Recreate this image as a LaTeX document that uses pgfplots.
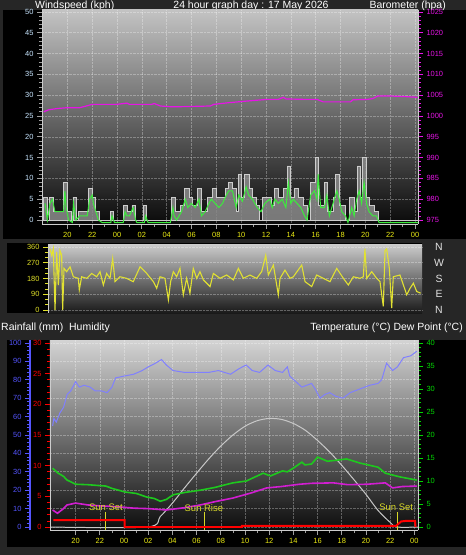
\documentclass[border=0pt]{standalone}
\usepackage{fontspec}
\setmainfont{Liberation Sans}
\usepackage{pgfplots}
\pgfplotsset{compat=1.18}
\definecolor{bgdark}{RGB}{38,38,38}
\definecolor{frame}{RGB}{205,205,205}
\definecolor{tickgray}{RGB}{160,160,160}
\definecolor{tickyellow}{RGB}{235,235,20}
\definecolor{windlbl}{RGB}{200,230,255}
\definecolor{baro}{RGB}{230,20,230}
\definecolor{dirline}{RGB}{225,225,50}
\definecolor{dirlbl}{RGB}{225,225,40}
\definecolor{humline}{RGB}{128,128,255}
\definecolor{humlbl}{RGB}{85,85,255}
\definecolor{rainred}{RGB}{255,0,0}
\definecolor{templine}{RGB}{30,200,30}
\definecolor{templbl}{RGB}{0,215,0}
\definecolor{dewline}{RGB}{210,30,210}
\definecolor{sunline}{RGB}{200,200,200}
\definecolor{sunyel}{RGB}{215,215,40}
\definecolor{gustfill}{RGB}{140,140,140}
\definecolor{gustedge}{RGB}{205,205,205}
\definecolor{avgline}{RGB}{60,235,60}
\newcommand{\tl}{\fontsize{7.5}{8}\selectfont}
\newcommand{\ttl}{\fontsize{10.5}{12}\selectfont}
\pgfplotsset{
  common/.style={scale only axis, anchor=south west,
    /pgf/number format/assume math mode=true,
    /pgf/number format/set thousands separator={},
    tick align=outside, major tick length=5bp, minor tick length=3bp,
    axis line style={draw=frame, line width=1pt}},
  gridst/.style={major grid style={draw=white, opacity=0.3, densely dotted, line width=0.6pt}},
}
\begin{document}
\begin{tikzpicture}
\fill[bgdark] (0,0) rectangle (466bp,-555bp);
\useasboundingbox (0,0) rectangle (466bp,-555bp);
\fill[black] (3bp,-10bp) rectangle (466bp,-239bp);
\fill[black] (7bp,-243bp) rectangle (422bp,-313bp);
\fill[black] (7bp,-340bp) rectangle (466bp,-547bp);

\node[anchor=base west, text=white, font=\ttl, inner sep=0] at (35bp,-8bp) {Windspeed (kph)};
\node[anchor=base, text=white, font=\ttl, inner sep=0] at (251bp,-8bp) {24 hour graph day : 17 May 2026};
\node[anchor=base east, text=white, font=\ttl, inner sep=0] at (446bp,-8bp) {Barometer (hpa)};
\node[anchor=base west, text=white, font=\ttl, inner sep=0] at (1bp,-330.5bp) {Rainfall (mm)\ \ Humidity};
\node[anchor=base east, text=white, font=\ttl, inner sep=0] at (463bp,-330.5bp) {Temperature (°C) Dew Point (°C)};

% ---------------- Panel 1: wind ----------------
\begin{axis}[common, gridst,
  at={(42bp,-224bp)}, width=376bp, height=214bp,
  xmin=-6.04, xmax=24.24, ymin=-0.96, ymax=50.48,
  axis background/.style={shade, top color={rgb,255:red,195;green,195;blue,195}, bottom color={rgb,255:red,10;green,10;blue,10}},
  axis x line*=bottom, axis y line*=left,
  xtick={-4,-2,...,24}, xticklabels={20,22,00,02,04,06,08,10,12,14,16,18,20,22,00},
  minor x tick num=1,
  ytick={0,5,...,50}, minor y tick num=4,
  tick style={draw=tickgray, line width=0.7pt},
  xticklabel style={text=tickyellow, font=\tl},
  yticklabel style={text=windlbl, font=\tl},
  grid=major]
\addplot[const plot, fill=gustfill, fill opacity=0.85, draw=gustedge, line width=0.8pt] coordinates {
(-5.9,5.5) (-5.6,0) (-5.45,5.5) (-5.1,2) (-4.3,9) (-4.0,2) (-3.7,0) (-3.55,5.5) (-3.3,0) (-3.1,2)
(-2.3,7.5) (-2.0,5.5) (-1.75,2) (-1.45,0) (-0.5,2) (-0.25,0) (0.55,3.5) (0.85,2) (1.2,3.5) (1.5,0)
(2.15,3.5) (2.4,0) (4.35,5.5) (4.7,2) (5.1,3.5) (5.45,7.5) (5.8,5.5) (6.1,3.5) (6.5,7.5) (6.8,2)
(7.25,5.5) (7.7,7.5) (8.0,5.5) (8.7,7.5) (9.0,9) (9.3,7.5) (9.6,2) (9.75,11) (10.0,5.5) (10.25,11)
(10.65,7.5) (10.9,5.5) (11.2,3.5) (11.5,0) (11.7,5.5) (12.4,3.5) (12.65,7.5) (13.0,5.5) (13.4,7.5)
(13.7,13) (13.95,5.5) (14.25,7.5) (14.6,5.5) (15.0,3.5) (15.35,0) (15.6,9) (15.95,15) (16.2,3.5)
(16.7,9) (16.95,2) (17.4,5.5) (17.6,11) (17.95,3.5) (18.4,0) (18.75,5.5) (19.1,2) (19.35,13)
(19.6,5.5) (19.8,15) (20.05,5.5) (20.35,3.5) (20.7,2) (21.05,0) (24.24,0)} \closedcycle;
\addplot[avgline, line width=1pt] coordinates {
(-5.8,4) (-5.6,0) (-5.4,4) (-5.2,5) (-5.0,2) (-4.3,2) (-4.2,7) (-4.1,3) (-3.9,0) (-3.6,-0.6) (-3.5,4)
(-3.3,0) (-3.0,1) (-2.4,1) (-2.2,5) (-2.0,6) (-1.9,4) (-1.7,2) (-1.5,0) (-1.2,-0.6) (-0.5,-0.6)
(-0.4,1) (-0.2,-0.6) (0.5,-0.6) (0.65,2) (0.8,1) (1.0,1) (1.3,3) (1.5,0) (1.6,-0.6) (2.2,-0.6)
(2.3,1) (2.5,-0.6) (4.3,-0.6) (4.5,3) (4.6,1) (4.8,0) (5.2,2) (5.5,5) (5.7,3) (6.0,4) (6.3,3)
(6.6,5) (6.8,1) (7.1,2) (7.4,4) (7.6,5) (7.9,4) (8.2,3) (8.5,4) (8.8,6) (9.0,7) (9.3,7) (9.6,3)
(9.8,6) (10.1,4.5) (10.4,8) (10.6,6) (10.9,5) (11.1,4) (11.3,3) (11.6,2) (11.9,4) (12.3,5) (12.5,3)
(12.7,5) (13.0,4) (13.3,5) (13.6,3) (13.8,9) (14.0,4) (14.2,5) (14.5,4) (14.8,3) (15.1,1) (15.3,0)
(15.6,6) (15.9,7) (16.1,5) (16.2,11) (16.4,3) (16.7,3) (16.9,6) (17.1,1) (17.4,4) (17.7,7) (17.9,5)
(18.1,2) (18.4,1) (18.6,-0.6) (18.9,3) (19.1,1) (19.3,5) (19.5,7) (19.7,4) (19.9,9) (20.1,4)
(20.3,2) (20.6,1) (20.9,1) (21.1,-0.6) (24.24,-0.6)};
\end{axis}
\begin{axis}[common,
  at={(42bp,-224bp)}, width=376bp, height=214bp,
  xmin=-6.04, xmax=24.24, ymin=974.04, ymax=1025.48,
  axis x line=none, axis y line*=right,
  ytick={975,980,...,1025}, minor y tick num=4,
  tick style={draw=baro, line width=0.7pt},
  yticklabel style={text=baro, font=\tl}]
\addplot[baro, line width=1.2pt] coordinates {
(-5.9,1001) (-5.5,1001.5) (-4.8,1001.8) (-4.0,1002) (-3.0,1002) (-2.6,1002.3) (-2.0,1002.8)
(-1.4,1002.8) (0.0,1002.8) (0.8,1003.1) (1.0,1002.8) (2.8,1002.8) (3.0,1003) (3.5,1002.4)
(4.5,1002.2) (6.0,1002.3) (7.5,1002.4) (7.8,1002.8) (9.0,1003.2) (10.5,1003.6) (12.1,1004)
(13.0,1004) (13.4,1004.5) (13.6,1004.1) (15.0,1004) (16.1,1004) (16.6,1003.4) (18.0,1003.4)
(18.8,1003.4) (19.0,1003.9) (20.2,1004) (20.6,1004.2) (21.0,1004.8) (22.0,1004.8) (23.0,1004.7)
(24.2,1004.5)};
\end{axis}

% ---------------- Panel 2: direction ----------------
\begin{axis}[common, gridst,
  at={(48bp,-313bp)}, width=374bp, height=69bp,
  xmin=-6.1, xmax=24.25, ymin=-17.1, ymax=377.1,
  axis background/.style={shade, top color={rgb,255:red,205;green,205;blue,205}, bottom color={rgb,255:red,25;green,25;blue,25}},
  axis x line=none, axis y line*=left,
  ytick={0,90,...,360}, minor y tick num=2,
  tick style={draw=dirlbl, line width=0.7pt},
  yticklabel style={text=dirlbl, font=\tl},
  ymajorgrids]
\addplot[dirline, line width=1.1pt] coordinates {
(-5.94,350) (-5.80,313) (-5.67,350) (-5.53,0) (-5.40,332) (-5.26,143) (-5.13,340) (-4.99,313)
(-4.91,0) (-4.80,238) (-4.59,219) (-4.31,247) (-4.04,190) (-3.64,181) (-3.56,115) (-3.37,190)
(-2.96,181) (-2.56,209) (-2.15,190) (-1.88,219) (-1.61,143) (-1.34,209) (-1.07,181) (-0.85,294)
(-0.66,162) (-0.26,190) (0.28,181) (0.82,162) (1.37,247) (1.91,209) (2.45,162) (2.72,124)
(2.99,190) (3.39,181) (3.67,58) (3.85,162) (4.07,219) (4.34,190) (4.61,238) (4.88,87) (5.15,181)
(5.42,96) (5.69,238) (5.96,181) (6.23,219) (6.51,172) (7.05,134) (7.32,209) (7.86,181) (8.40,200)
(8.94,172) (9.35,238) (9.75,181) (10.29,200) (10.83,181) (11.24,219) (11.57,313) (11.78,200)
(12.19,257) (12.59,87) (12.73,181) (13.13,228) (13.54,181) (13.81,190) (14.49,257) (14.76,162)
(15.30,134) (15.70,200) (16.24,181) (16.78,162) (17.33,238) (17.87,181) (18.27,143) (18.68,190)
(19.22,181) (19.49,190) (19.62,350) (19.76,181) (20.17,219) (20.57,181) (20.84,162) (21.11,21)
(21.25,340) (21.38,350) (21.60,238) (21.79,11) (21.92,190) (22.46,200) (22.74,143) (23.01,87)
(23.28,124) (23.55,153) (23.82,106) (24.14,96)};
\end{axis}
\begin{axis}[common,
  at={(48bp,-313bp)}, width=374bp, height=69bp,
  xmin=-6.1, xmax=24.25, ymin=-17.1, ymax=377.1,
  axis x line=none, axis y line*=right, axis line style={draw=none},
  ytick={0,90,180,270,360}, yticklabels={N,E,S,W,N},
  tick style={draw=none},
  yticklabel style={text={rgb,255:red,225;green,225;blue,225}, font=\ttl, anchor=center, xshift=12bp}]
\end{axis}

% ---------------- Panel 3 ----------------
\begin{axis}[common, gridst,
  at={(50bp,-530bp)}, width=368bp, height=190bp,
  xmin=-6.12, xmax=24.3, ymin=-1.63, ymax=101.6,
  axis background/.style={shade, top color={rgb,255:red,212;green,212;blue,212}, bottom color={rgb,255:red,12;green,12;blue,12}},
  axis x line*=bottom, axis y line*=left,
  xtick={-4,-2,...,24}, xticklabels={20,22,00,02,04,06,08,10,12,14,16,18,20,22,00},
  minor x tick num=1,
  ytick={0,10,...,100}, yticklabels={}, ytick style={draw=none},
  tick style={draw=tickgray, line width=0.7pt},
  xticklabel style={text=tickyellow, font=\tl},
  grid=major]
\addplot[humline, line width=1pt] coordinates {
(-5.9,55) (-5.8,59) (-5.6,57) (-5.3,62) (-5.0,65) (-4.7,72) (-4.4,74) (-4.0,79) (-3.7,76)
(-3.3,77) (-2.8,76) (-2.4,74) (-1.9,74) (-1.4,73) (-1.0,76) (-0.7,81) (0.0,82) (0.8,83) (1.5,85)
(2.0,87) (2.6,89) (3.1,91) (3.5,88) (4.05,85) (5.0,84) (6.3,84) (7.0,84) (7.8,85) (8.8,83)
(9.5,86) (10.1,88) (10.6,85) (11.2,84) (11.9,88) (12.5,85) (13.1,84) (13.5,87) (13.7,82)
(14.2,79) (14.7,76) (15.5,78) (15.8,75) (16.2,70) (16.6,72) (17.0,73) (17.5,71) (18.1,70)
(18.7,73) (19.5,75) (20.3,77) (21.0,78) (21.3,80) (21.7,89) (22.2,85) (22.6,87) (23.1,92)
(23.7,93) (24.2,95.5)};
\end{axis}
\begin{axis}[common,
  at={(50bp,-530bp)}, width=368bp, height=190bp,
  xmin=-6.12, xmax=24.3, ymin=-0.65, ymax=40.65,
  axis x line=none, axis y line*=right,
  ytick={0,5,...,40}, minor y tick num=4,
  tick style={draw=templbl, line width=0.7pt},
  yticklabel style={text=templbl, font=\tl}]
\addplot[sunline, line width=1pt, smooth] coordinates {
(-6.1,0) (1.9,0) (3,2.3) (4,5.2) (5,8.5) (6,11.7) (7,14.8) (8,17.6) (9,20.0) (10,21.9) (11,23.1)
(12,23.6) (13,23.4) (14,22.5) (15,21.0) (16,18.8) (17,16.3) (18,13.4) (19,10.3) (20,7.1) (21,3.6)
(22,1.0) (22.56,0) (24.3,0)};
\addplot[templine, line width=1.6pt] coordinates {
(-5.9,12.8) (-5.5,11.8) (-5,11) (-4.7,10.2) (-4.0,9.3) (-3,9.2) (-1.5,8.9) (-1,8.4) (0.1,7.6)
(1,7.3) (1.9,6.5) (2.5,6.2) (3.0,5.6) (3.5,6.0) (4.05,7.0) (5,7.5) (6.3,8.0) (7.5,8.6) (9.0,9.6)
(10.1,10.0) (11.5,11.7) (12.1,11.1) (13.1,12.2) (13.5,12.0) (14.0,12.8) (14.7,14.1) (14.96,13.5)
(15.5,13.7) (16.0,15.2) (16.8,14.3) (17.5,14.5) (18.4,14.8) (19.5,13.9) (21.0,13.0) (21.6,11.7)
(22.8,10.9) (24.2,10.2)};
\addplot[dewline, line width=1.6pt] coordinates {
(-5.9,3.7) (-5.5,3.0) (-5.1,3.8) (-4.7,4.8) (-4.0,5.2) (-3.0,4.8) (-2.0,4.6) (-0.5,4.4) (0.8,4.1)
(2.0,4.0) (3.5,3.7) (5.0,4.2) (6.3,4.8) (7.5,5.5) (9.0,6.3) (10.5,7.4) (11.8,8.5) (13.0,8.8)
(14.5,9.3) (15.5,9.5) (17.3,9.6) (18.5,9.2) (20.1,9.3) (21.6,9.6) (22.2,8.5) (23.0,8.8) (24.2,8.9)};
\addplot[sunyel, line width=1pt] coordinates {(-1.5,3.3) (-1.5,-0.65)};
\addplot[sunyel, line width=1pt] coordinates {(6.67,3.3) (6.67,-0.65)};
\addplot[sunyel, line width=1pt] coordinates {(22.62,3.3) (22.62,-0.65)};
\node[text=sunyel, font=\fontsize{9.5}{10}\selectfont, inner sep=0] at (axis cs:-1.5,4.2) {Sun Set};
\node[text=sunyel, font=\fontsize{9.5}{10}\selectfont, inner sep=0] at (axis cs:6.6,4.2) {Sun Rise};
\node[text=sunyel, font=\fontsize{9.5}{10}\selectfont, inner sep=0] at (axis cs:22.5,4.2) {Sun Set};
\end{axis}
\begin{axis}[common,
  at={(50bp,-530bp)}, width=368bp, height=190bp,
  xmin=-6.12, xmax=24.3, ymin=-0.49, ymax=30.49,
  axis x line=none, axis y line*=left,
  ytick={0,5,...,30}, minor y tick num=4,
  tick style={draw=rainred, line width=0.7pt},
  yticklabel style={text=rainred, font=\tl}]
\addplot[rainred, line width=2pt] coordinates {
(-5.85,1.14) (0.05,1.14) (0.05,0) (9.75,0) (9.75,0.2) (22.5,0.2) (22.9,0.9) (23.3,1.0) (24.05,1.0) (24.1,0)};
\end{axis}
\begin{axis}[common,
  at={(30bp,-530bp)}, width=0.5bp, height=190bp,
  xmin=0, xmax=1, ymin=-1.63, ymax=101.6,
  axis x line=none, axis y line*=left,
  axis line style={draw=humlbl, line width=2pt},
  ytick={0,10,...,100}, minor y tick num=4,
  tick style={draw=humlbl, line width=0.7pt},
  yticklabel style={text=humlbl, font=\tl}]
\addplot[draw=none] coordinates {(0,0)};
\end{axis}
\end{tikzpicture}
\end{document}
